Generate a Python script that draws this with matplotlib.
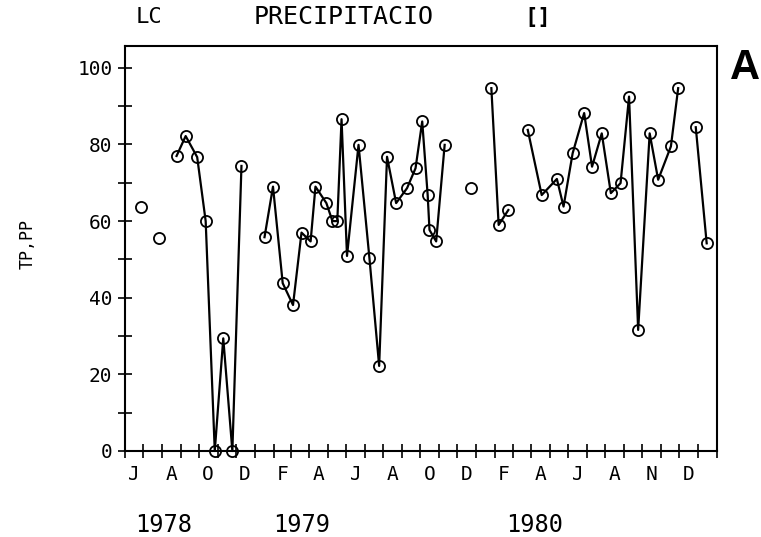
import numpy as np
import pandas as pd
import matplotlib
matplotlib.use("Agg")
import matplotlib.pyplot as plt
import matplotlib.dates as mdates
from matplotlib.ticker import FixedLocator, NullFormatter, FixedFormatter

# sampling dates and precipitation values (TP, PP)
dates = [
    "1978-06-28", "1978-07-27",
    "1978-08-25", "1978-09-09", "1978-09-28", "1978-10-12", "1978-10-27",
    "1978-11-10", "1978-11-25", "1978-12-10",
    "1979-01-17", "1979-01-31", "1979-02-16", "1979-03-05", "1979-03-19",
    "1979-04-03", "1979-04-11", "1979-04-29", "1979-05-09", "1979-05-17",
    "1979-05-24", "1979-06-02", "1979-06-21", "1979-07-09", "1979-07-25",
    "1979-08-07", "1979-08-22", "1979-09-09", "1979-09-23", "1979-10-04",
    "1979-10-13", "1979-10-16", "1979-10-27", "1979-11-10",
    "1979-12-23",
    "1980-01-26", "1980-02-07", "1980-02-23",
    "1980-03-26", "1980-04-18", "1980-05-13", "1980-05-24", "1980-06-08",
    "1980-06-27", "1980-07-10", "1980-07-26", "1980-08-10", "1980-08-26",
    "1980-09-09", "1980-09-24", "1980-10-13", "1980-10-27", "1980-11-17",
    "1980-11-29",
    "1980-12-28", "1981-01-15",
]
values = [
    63.8, 55.5,
    77.0, 82.2, 76.7, 60.0, 0.0, 29.4, 0.0, 74.4,
    55.8, 69.0, 43.8, 38.1, 57.0, 54.7, 69.0, 64.7, 60.0, 60.0,
    86.6, 50.9, 79.9, 50.3, 22.2, 76.8, 64.7, 68.6, 73.8, 86.0,
    66.8, 57.7, 54.7, 79.9,
    68.6,
    94.7, 59.0, 62.9,
    83.8, 66.8, 71.0, 63.8, 77.7, 88.2, 74.2, 82.9, 67.3, 69.9,
    92.5, 31.6, 82.9, 70.8, 79.5, 94.7,
    84.5, 54.2,
]
# consecutive samples sharing a run number are joined by a line
run = [0, 1] + [2] * 8 + [3] * 24 + [4] + [5] * 3 + [6] * 16 + [7] * 2

month_labels = ["J", "A", "O", "D", "F", "A", "J", "A",
                "O", "D", "F", "A", "J", "A", "N", "D"]
years = ["1978", "1979", "1980"]
year_pos = ["1978-08-04", "1979-03-20", "1980-04-06"]

df = pd.DataFrame({"date": pd.to_datetime(dates), "tp": values, "run": run})

mono = "DejaVu Sans Mono"
fig = plt.figure(figsize=(7.61, 5.37), dpi=100)
ax = fig.add_axes([125 / 761, 1 - 451 / 537, 592 / 761, 405 / 537])

for _, g in df.groupby("run"):
    ax.plot(g["date"], g["tp"], "-o", color="black", lw=1.6,
            ms=8, mfc="none", mec="black", mew=1.3, clip_on=False)

ax.set_xlim(pd.Timestamp("1978-06-01"), pd.Timestamp("1981-02-01"))
ax.set_ylim(0, 105.7)

# monthly tick marks, letters centred in every second month
month_starts = pd.date_range("1978-06-01", "1981-02-01", freq="MS")
label_pos = pd.date_range("1978-06-01", periods=len(month_labels), freq="2MS") + pd.Timedelta(days=15)
ax.xaxis.set_major_locator(FixedLocator(mdates.date2num(month_starts)))
ax.xaxis.set_major_formatter(NullFormatter())
ax.xaxis.set_minor_locator(FixedLocator(mdates.date2num(label_pos)))
ax.xaxis.set_minor_formatter(FixedFormatter(month_labels))
ax.tick_params(axis="x", which="major", direction="inout", length=10, width=1.2)
ax.tick_params(axis="x", which="minor", length=0, pad=10, labelsize=14)
for t in ax.xaxis.get_minorticklabels():
    t.set_fontfamily(mono)

ax.set_yticks([0, 20, 40, 60, 80, 100])
ax.set_yticks([10, 30, 50, 70, 90], minor=True)
ax.tick_params(axis="y", which="both", direction="inout", length=10, width=1.2,
               pad=4, labelsize=14)
for t in ax.get_yticklabels():
    t.set_fontfamily(mono)

for s in ax.spines.values():
    s.set_linewidth(1.5)

ax.set_ylabel("TP,PP", fontfamily=mono, fontsize=12)
ax.yaxis.set_label_coords(-0.15, 0.51)

for yr, pos in zip(years, year_pos):
    ax.text(pd.Timestamp(pos), -0.183, yr, transform=ax.get_xaxis_transform(),
            ha="center", va="center", fontfamily=mono, fontsize=17)

fig.text(149 / 761, 1 - 17 / 537, "LC", ha="center", va="center",
         fontfamily=mono, fontsize=16)
fig.text(344 / 761, 1 - 17 / 537, "PRECIPITACIO", ha="center", va="center",
         fontfamily=mono, fontsize=18)
fig.text(538 / 761, 1 - 17 / 537, "[]", ha="center", va="center",
         fontfamily=mono, fontsize=16, fontweight="bold")
fig.text(745 / 761, 1 - 68 / 537, "A", ha="center", va="center",
         fontfamily="Liberation Sans", fontsize=30, fontweight="bold")

fig.savefig("out.png", dpi=100)
